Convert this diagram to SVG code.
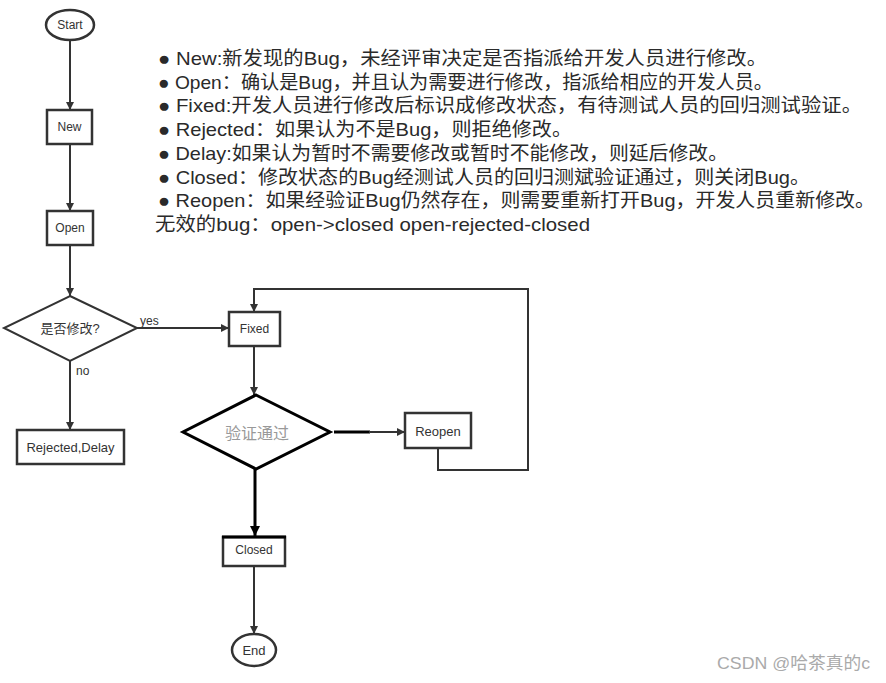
<svg xmlns="http://www.w3.org/2000/svg" width="886" height="683" viewBox="0 0 886 683">
<defs>
<style>
.bx{fill:#fff;stroke:#333;stroke-width:2.5}
.lbl{font-family:"Liberation Sans","Noto Sans CJK SC",sans-serif;font-size:13px;fill:#333;text-anchor:middle;dominant-baseline:central}
.ln{fill:none;stroke:#333;stroke-width:2}
.note{font-family:"Liberation Sans","Noto Sans CJK SC",sans-serif;font-size:19px;fill:#2a2a2a}
</style>
<marker id="ah" viewBox="0 0 10 10" refX="10" refY="5" markerWidth="8" markerHeight="8" markerUnits="userSpaceOnUse" orient="auto"><path d="M0,0 L10,5 L0,10 z" fill="#333"/></marker>
<marker id="ahb" viewBox="0 0 10 10" refX="10" refY="5" markerWidth="10" markerHeight="10" markerUnits="userSpaceOnUse" orient="auto"><path d="M0,0 L10,5 L0,10 z" fill="#000"/></marker>
</defs>
<rect width="886" height="683" fill="#fff"/>
<g id="connectors">
<line class="ln" x1="70" y1="40" x2="70" y2="110" marker-end="url(#ah)"/>
<line class="ln" x1="70" y1="144" x2="70" y2="211" marker-end="url(#ah)"/>
<line class="ln" x1="70" y1="245" x2="70" y2="296" marker-end="url(#ah)"/>
<line class="ln" x1="137" y1="328" x2="229" y2="328" marker-end="url(#ah)"/>
<line class="ln" x1="70" y1="361" x2="70" y2="430" marker-end="url(#ah)"/>
<line class="ln" x1="254" y1="346" x2="254" y2="395" marker-end="url(#ah)"/>
<line x1="334" y1="432" x2="370" y2="432" stroke="#000" stroke-width="3"/>
<line class="ln" x1="369" y1="432" x2="405" y2="432" marker-end="url(#ah)"/>
<polyline class="ln" points="438,448 438,470 528,470 528,289 254,289 254,312" marker-end="url(#ah)"/>
<line x1="255" y1="469" x2="255" y2="536" stroke="#000" stroke-width="3" marker-end="url(#ahb)"/>
<line class="ln" x1="254" y1="566" x2="254" y2="634" marker-end="url(#ah)"/>
<text x="140" y="321" class="lbl" style="text-anchor:start;font-size:12px">yes</text>
<text x="76" y="371" class="lbl" style="text-anchor:start;font-size:12px">no</text>
</g>
<g id="start"><ellipse cx="70" cy="25" rx="24" ry="15" class="bx"/><text x="70" y="25" class="lbl" style="font-size:12px">Start</text></g>
<g id="new"><rect x="47" y="110" width="45" height="34" class="bx"/><text x="69.5" y="127" class="lbl" style="font-size:12px">New</text></g>
<g id="open"><rect x="47" y="211" width="46" height="34" class="bx"/><text x="70" y="228" class="lbl" style="font-size:12px">Open</text></g>
<g id="decide"><polygon points="70,296 137,328 70,361 4,328" class="bx" style="stroke-width:2"/><text x="70" y="328" class="lbl">是否修改?</text></g>
<g id="rejected"><rect x="17" y="430" width="107" height="34" class="bx"/><text x="70.5" y="447" class="lbl">Rejected,Delay</text></g>
<g id="fixed"><rect x="229" y="312" width="51" height="34" class="bx"/><text x="254.5" y="329" class="lbl" style="font-size:12px">Fixed</text></g>
<g id="verify"><polygon points="256,395 330,432 256,469 183,432" fill="#fff" stroke="#000" stroke-width="3"/><text x="257" y="433" class="lbl" style="font-size:16px;fill:#999">验证通过</text></g>
<g id="reopen"><rect x="405" y="413" width="66" height="35" class="bx"/><text x="438" y="431" class="lbl">Reopen</text></g>
<g id="closed"><rect x="223" y="537" width="62" height="29" class="bx"/><line x1="222" y1="537" x2="286" y2="537" stroke="#000" stroke-width="3"/><text x="254" y="550" class="lbl" style="font-size:12px">Closed</text></g>
<g id="end"><ellipse cx="254" cy="650" rx="22" ry="16" class="bx"/><text x="254" y="650" class="lbl">End</text></g>
<g id="notes">
<text class="note" x="158" y="65" textLength="609" lengthAdjust="spacingAndGlyphs">● New:新发现的Bug，未经评审决定是否指派给开发人员进行修改。</text>
<text class="note" x="158" y="89" textLength="615" lengthAdjust="spacingAndGlyphs">● Open：确认是Bug，并且认为需要进行修改，指派给相应的开发人员。</text>
<text class="note" x="158" y="112" textLength="704" lengthAdjust="spacingAndGlyphs">● Fixed:开发人员进行修改后标识成修改状态，有待测试人员的回归测试验证。</text>
<text class="note" x="158" y="136" textLength="414" lengthAdjust="spacingAndGlyphs">● Rejected：如果认为不是Bug，则拒绝修改。</text>
<text class="note" x="158" y="160" textLength="570" lengthAdjust="spacingAndGlyphs">● Delay:如果认为暂时不需要修改或暂时不能修改，则延后修改。</text>
<text class="note" x="158" y="184" textLength="652" lengthAdjust="spacingAndGlyphs">● Closed：修改状态的Bug经测试人员的回归测斌验证通过，则关闭Bug。</text>
<text class="note" x="158" y="207" textLength="717" lengthAdjust="spacingAndGlyphs">● Reopen：如果经验证Bug仍然存在，则需要重新打开Bug，开发人员重新修改。</text>
<text class="note" x="155" y="231" textLength="435" lengthAdjust="spacingAndGlyphs">无效的bug：open-&gt;closed open-rejected-closed</text>
</g>
<text x="717" y="669" font-family="'Liberation Sans','Noto Sans CJK SC',sans-serif" font-size="17" fill="#aaa" textLength="153" lengthAdjust="spacingAndGlyphs">CSDN @哈茶真的c</text>
</svg>
